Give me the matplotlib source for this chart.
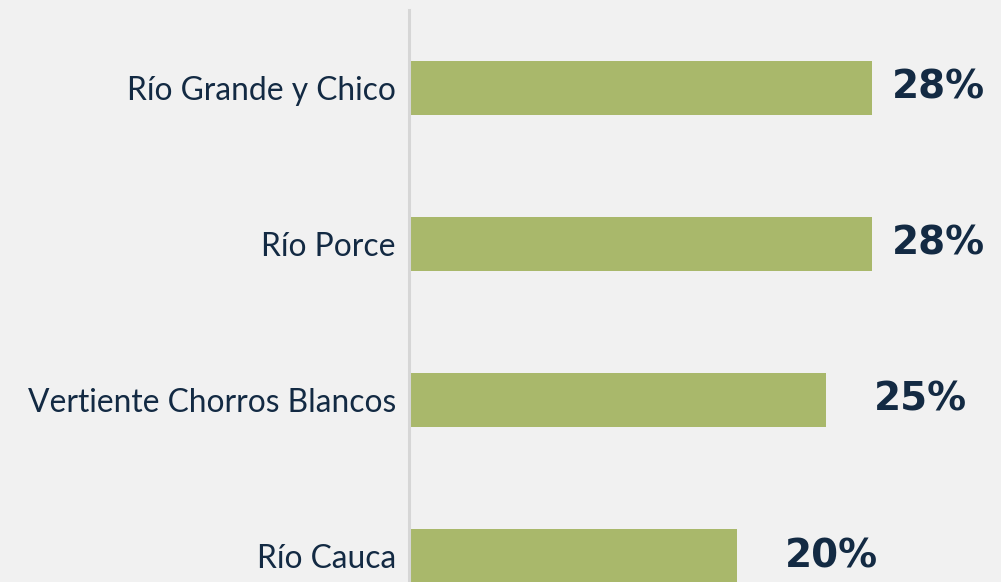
import matplotlib
matplotlib.use("Agg")
import matplotlib.pyplot as plt

categories = ["Río Grande y Chico", "Río Porce", "Vertiente Chorros Blancos", "Río Cauca"]
values = [28.0, 28.0, 25.2, 19.8]
value_labels = ["28%", "28%", "25%", "20%"]

W, H = 1001, 582
fig = plt.figure(figsize=(W / 100, H / 100), dpi=100)
bg = "#f1f1f1"
fig.patch.set_facecolor(bg)

left_px, top_px = 409, 10
span = 156 * 4
ax = fig.add_axes([left_px / W, 1 - (top_px + span) / H, 1 - left_px / W, span / H])
ax.set_facecolor(bg)

px_per_unit = 16.55
ax.set_xlim(0, (W - left_px) / px_per_unit)
ax.set_ylim(3.5, -0.5)

navy = "#132a43"
ypos = list(range(len(categories)))
ax.barh(ypos, values, height=0.35, color="#a9b86b", zorder=2)

for s in ["top", "right", "bottom"]:
    ax.spines[s].set_visible(False)
ax.spines["left"].set_color("#d6d6d6")
ax.spines["left"].set_linewidth(2.2)
ax.set_xticks([])
ax.set_yticks(ypos)
ax.set_yticklabels(categories, fontsize=22.9, color=navy, family=["Lato", "DejaVu Sans"])
ax.tick_params(axis="y", length=0, pad=9.5)

fig.canvas.draw()
renderer = fig.canvas.get_renderer()
max_right = 985
for y, v, lab in zip(ypos, values, value_labels):
    t = ax.text(0, 0, lab, fontsize=28, fontweight="bold", color=navy,
                family=["DejaVu Sans"], va="center", ha="left")
    bb = t.get_window_extent(renderer)
    wpx = bb.width
    x_end_px = ax.transData.transform((v, y))[0]
    start = min(x_end_px + 48, max_right - wpx)
    xd = ax.transData.inverted().transform((start, 0))[0]
    t.set_position((xd, y))

fig.savefig("out.png", dpi=100, facecolor=bg)
